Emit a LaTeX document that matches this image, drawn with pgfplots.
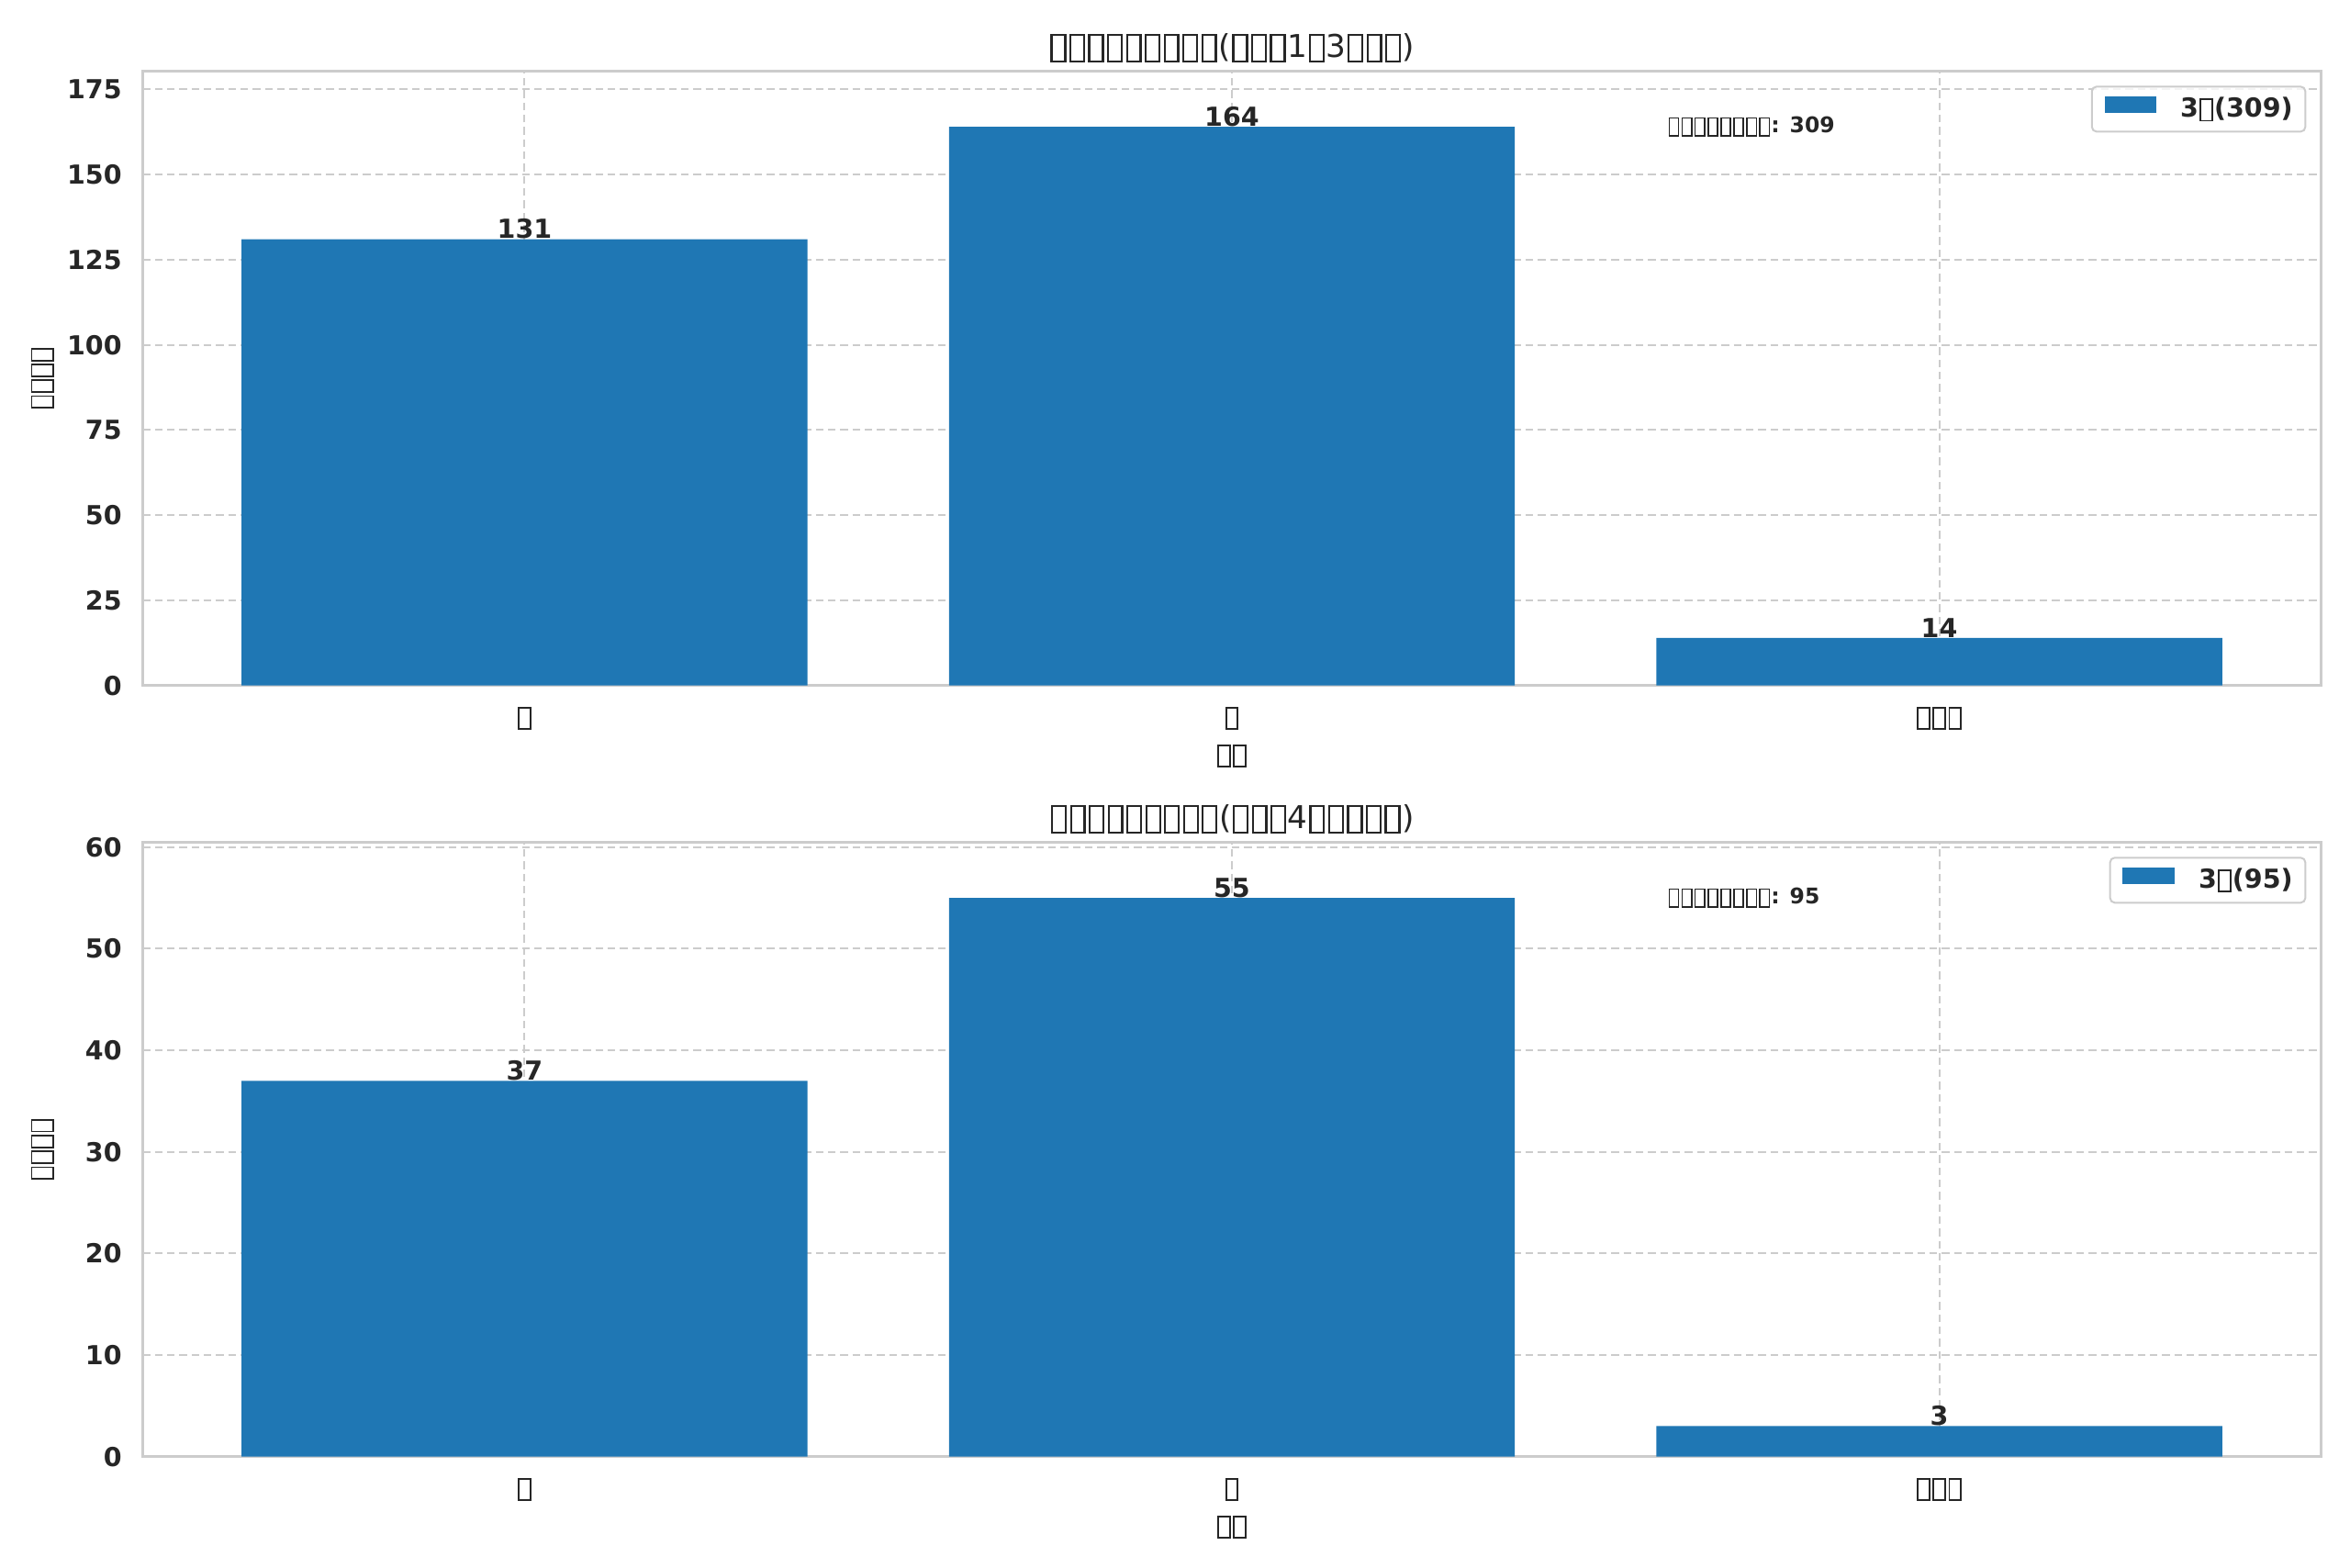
\documentclass[border=0pt]{standalone}
\usepackage{fontspec}
\setmainfont{DejaVu Sans}
\usepackage{pgfplots}
\pgfplotsset{compat=1.18}
\definecolor{barblue}{HTML}{1F77B4}
\definecolor{txt}{HTML}{262626}
\definecolor{gridc}{HTML}{CCCCCC}
\newcommand\tofu{\kern0.05em\raisebox{-0.1em}{\setlength\fboxsep{0pt}\setlength\fboxrule{0.065em}\fbox{\rule{0pt}{0.77em}\hspace{0.37em}}}\kern0.05em}
\newcommand\mainfs{\fontsize{8.55}{10}\selectfont}
\newcommand\titlefs{\fontsize{10.26}{12}\selectfont}
\newcommand\notefs{\fontsize{7.05}{8.5}\selectfont}
\pgfplotsset{
 mystyle/.style={
  scale only axis, width=712pt, height=200.8pt,
  anchor=south west,
  xmin=-0.54, xmax=2.54, ymin=0,
  xtick={0,1,2},
  xticklabels={\tofu,\tofu,\tofu\tofu\tofu},
  axis line style={draw=gridc, line width=0.75pt},
  grid=major,
  major grid style={draw=gridc, line width=0.6pt, dash pattern=on 2.5pt off 1.5pt},
  major tick length=0pt,
  /pgf/number format/assume math mode=true,
  tick label style={font=\bfseries\mainfs, text=txt, inner sep=0pt},
  yticklabel style={anchor=east, xshift=-6.6pt},
  xticklabel style={anchor=north, yshift=-6.7pt},
  title style={at={(axis description cs:0.5,1)}, anchor=base, yshift=-1.5pt, font=\titlefs, text=txt, inner sep=0pt},
  xlabel style={at={(axis description cs:0.5,0)}, anchor=north, yshift=-19pt, font=\mainfs, text=txt, inner sep=0pt},
  ylabel style={at={(axis description cs:0,0.5)}, anchor=south, yshift=28.6pt, font=\mainfs, text=txt, inner sep=0pt},
  xlabel={\tofu\tofu},
  ylabel={\tofu\tofu\tofu\tofu},
  legend style={at={(1,1)}, anchor=north east, xshift=-4.9pt, yshift=-4.8pt,
    draw=gridc, line width=0.6pt, rounded corners=1.5pt, fill=white, fill opacity=0.8,
    text opacity=1, draw opacity=1, font=\bfseries\mainfs, text=txt,
    inner xsep=4.1pt, inner ysep=3.2pt, nodes={inner sep=0pt}, column sep=7.8pt},
  nodes near coords,
  nodes near coords style={font=\bfseries\mainfs, text=txt, anchor=south, inner sep=0pt},
  point meta=y,
 }
}
\begin{document}
\begin{tikzpicture}
\useasboundingbox (0,0) rectangle (768pt,512.1pt);
\begin{axis}[mystyle, at={(46.59pt,288.09pt)}, ymax=180.4,
  ytick={0,25,50,75,100,125,150,175},
  title={\tofu\tofu\tofu\tofu\tofu\tofu\tofu\tofu\tofu(\tofu\tofu\tofu1\tofu3\tofu\tofu\tofu)}]
\addplot[ybar, bar width=0.8, fill=barblue, draw=none,
  legend image code/.code={\fill[barblue, fill opacity=1, sharp corners] (0pt,-1.2pt) rectangle (17pt,4.3pt);}]
  coordinates {(0,131) (1,164) (2,14)};
\addlegendentry{3\tofu(309)}
\node[anchor=west, inner sep=0pt, font=\bfseries\notefs, text=txt] at (axis cs:1.615,164) {\tofu\tofu\tofu\tofu\tofu\tofu\tofu\tofu: 309};
\end{axis}
\begin{axis}[mystyle, at={(46.59pt,36.1pt)}, ymax=60.5,
  ytick={0,10,20,30,40,50,60},
  title={\tofu\tofu\tofu\tofu\tofu\tofu\tofu\tofu\tofu(\tofu\tofu\tofu4\tofu\tofu\tofu\tofu\tofu)}]
\addplot[ybar, bar width=0.8, fill=barblue, draw=none,
  legend image code/.code={\fill[barblue, fill opacity=1, sharp corners] (0pt,-1.2pt) rectangle (17pt,4.3pt);}]
  coordinates {(0,37) (1,55) (2,3)};
\addlegendentry{3\tofu(95)}
\node[anchor=west, inner sep=0pt, font=\bfseries\notefs, text=txt] at (axis cs:1.615,55) {\tofu\tofu\tofu\tofu\tofu\tofu\tofu\tofu: 95};
\end{axis}
\end{tikzpicture}
\end{document}
